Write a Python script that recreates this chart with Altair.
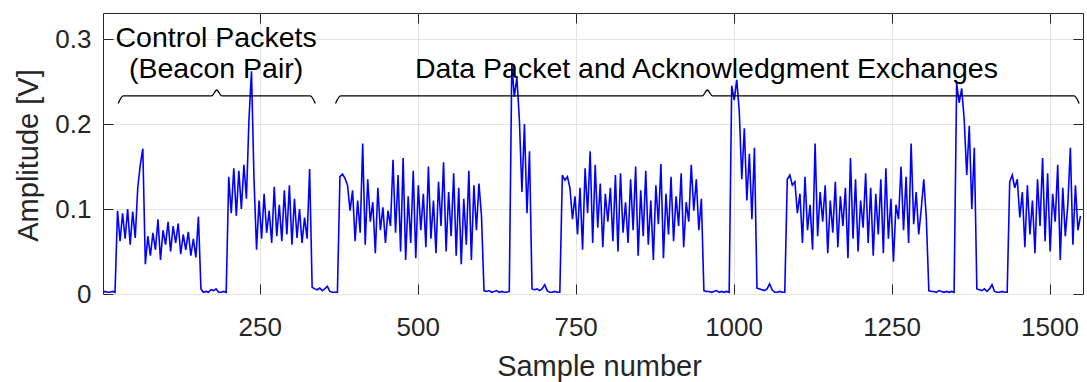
import altair as alt
import pandas as pd

# Amplitude readings [V], one every STEP samples, listed packet by packet.
STEP = 4

idle_0 = [0.002, 0.003, 0.002, 0.002, 0.003, 0.002]
beacon_a_lead = [0.098, 0.062, 0.095, 0.065, 0.100, 0.058, 0.097, 0.066]
beacon_a_peak = [0.125, 0.152, 0.171]
beacon_a_tail = [0.035, 0.068, 0.045, 0.072, 0.052, 0.088, 0.040, 0.075, 0.058, 0.085, 0.050,
                 0.080, 0.060, 0.083, 0.047, 0.070, 0.052, 0.073, 0.045, 0.065, 0.043, 0.091]
idle_1 = [0.006, 0.002, 0.003, 0.002, 0.005, 0.004, 0.006, 0.002, 0.002, 0.003, 0.002]
beacon_b_lead = [0.138, 0.095, 0.148, 0.092, 0.145, 0.100, 0.152, 0.112]
beacon_b_peak = [0.205, 0.262, 0.135]
beacon_b_tail = [0.052, 0.110, 0.065, 0.118, 0.072, 0.098, 0.060, 0.126, 0.068, 0.105, 0.062,
                 0.122, 0.070, 0.128, 0.058, 0.112, 0.066, 0.100, 0.060, 0.090, 0.065, 0.147]
idle_2 = [0.008, 0.006, 0.005, 0.007, 0.004, 0.006, 0.009, 0.003, 0.002, 0.002, 0.002]
data_1 = [0.138, 0.141, 0.136, 0.128, 0.098, 0.122, 0.062, 0.110, 0.072, 0.177, 0.058, 0.135,
          0.085, 0.108, 0.048, 0.125, 0.075, 0.102, 0.060, 0.098, 0.080, 0.158, 0.072, 0.140,
          0.050, 0.160, 0.040, 0.115, 0.060, 0.145, 0.042, 0.128, 0.075, 0.118, 0.055, 0.150,
          0.065, 0.110, 0.048, 0.132, 0.080, 0.155, 0.050, 0.120, 0.068, 0.142, 0.045, 0.125,
          0.035, 0.112, 0.058, 0.145, 0.040, 0.128, 0.075, 0.130, 0.092]
idle_3 = [0.004, 0.003, 0.004, 0.002, 0.003, 0.004, 0.002, 0.003, 0.002, 0.002, 0.003]
ack_1 = [0.270, 0.232, 0.255, 0.205, 0.120, 0.200, 0.095, 0.168]
idle_4 = [0.006, 0.005, 0.006, 0.004, 0.006, 0.011, 0.004, 0.002, 0.002, 0.003, 0.002, 0.002]
data_2 = [0.140, 0.134, 0.138, 0.125, 0.088, 0.115, 0.070, 0.125, 0.052, 0.148, 0.095, 0.168,
          0.060, 0.152, 0.078, 0.130, 0.055, 0.118, 0.085, 0.125, 0.062, 0.140, 0.050, 0.142,
          0.072, 0.108, 0.060, 0.135, 0.075, 0.150, 0.045, 0.122, 0.068, 0.145, 0.058, 0.110,
          0.040, 0.128, 0.082, 0.153, 0.042, 0.118, 0.070, 0.138, 0.062, 0.115, 0.080, 0.142,
          0.055, 0.108, 0.085, 0.152, 0.098, 0.135, 0.075, 0.112]
idle_5 = [0.004, 0.003, 0.003, 0.002, 0.003, 0.004, 0.002, 0.003, 0.002, 0.003, 0.002]
ack_2 = [0.245, 0.228, 0.252, 0.215, 0.135, 0.195, 0.110, 0.165, 0.088, 0.172]
idle_6 = [0.007, 0.006, 0.005, 0.004, 0.006, 0.012, 0.005, 0.002, 0.002, 0.003, 0.002, 0.002]
data_3 = [0.135, 0.140, 0.128, 0.132, 0.095, 0.118, 0.060, 0.138, 0.075, 0.105, 0.052, 0.177,
          0.068, 0.120, 0.085, 0.128, 0.048, 0.110, 0.072, 0.132, 0.055, 0.115, 0.080, 0.125,
          0.042, 0.160, 0.065, 0.135, 0.050, 0.110, 0.078, 0.142, 0.060, 0.125, 0.045, 0.118,
          0.070, 0.135, 0.048, 0.148, 0.065, 0.112, 0.038, 0.105, 0.088, 0.150, 0.075, 0.138,
          0.060, 0.177, 0.082, 0.120, 0.070, 0.100, 0.135, 0.090]
idle_7 = [0.004, 0.003, 0.003, 0.002, 0.004, 0.003, 0.002, 0.003, 0.002, 0.003, 0.002]
ack_3 = [0.248, 0.225, 0.242, 0.205, 0.140, 0.198, 0.100, 0.172]
idle_8 = [0.006, 0.005, 0.004, 0.006, 0.003, 0.006, 0.011, 0.003, 0.002, 0.002, 0.003, 0.002, 0.002]
data_4 = [0.132, 0.140, 0.125, 0.135, 0.090, 0.120, 0.055, 0.128, 0.070, 0.110, 0.048, 0.135,
          0.080, 0.160, 0.062, 0.142, 0.050, 0.118, 0.085, 0.152, 0.040, 0.125, 0.068, 0.105,
          0.172, 0.058, 0.128, 0.075, 0.092]

segments = [idle_0, beacon_a_lead, beacon_a_peak, beacon_a_tail, idle_1,
            beacon_b_lead, beacon_b_peak, beacon_b_tail, idle_2,
            data_1, idle_3, ack_1, idle_4, data_2, idle_5, ack_2, idle_6,
            data_3, idle_7, ack_3, idle_8, data_4]

amplitude = [v for seg in segments for v in seg]
sample = [1 + STEP * i for i in range(len(amplitude))]

x_ticks = [250, 500, 750, 1000, 1250, 1500]
y_ticks = [0, 0.1, 0.2, 0.3]
x_domain = [2, 1553]
y_domain = [0, 0.3306]

# Braces over the two phases: (name, first sample, last sample)
brace_spans = [("control", 26, 338), ("data", 370, 1547)]
brace_level = 0.233
brace_hook = 0.009
brace_tip = 0.007
brace_round = 8

label_text = ["Control Packets", "(Beacon Pair)", "Data Packet and Acknowledgment Exchanges"]
label_x = [181, 181, 957]
label_y = [0.291, 0.254, 0.254]

FONT = "Liberation Sans"
INK = "#262626"

signal_df = pd.DataFrame({"sample": sample, "amplitude": amplitude})

brace_rows = []
for name, x0, x1 in brace_spans:
    xc = (x0 + x1) / 2
    pts = [(x0, brace_level - brace_hook), (x0 + brace_round, brace_level),
           (xc - brace_round, brace_level), (xc, brace_level + brace_tip),
           (xc + brace_round, brace_level), (x1 - brace_round, brace_level),
           (x1, brace_level - brace_hook)]
    for k, (bx, by) in enumerate(pts):
        brace_rows.append({"brace": name, "order": k, "sample": bx, "amplitude": by})
brace_df = pd.DataFrame(brace_rows)

label_df = pd.DataFrame({"text": label_text, "sample": label_x, "amplitude": label_y})

x_scale = alt.Scale(domain=x_domain, nice=False, zero=False)
y_scale = alt.Scale(domain=y_domain, nice=False, zero=False)

signal = alt.Chart(signal_df).mark_line(color="#0000ff", strokeWidth=1.6, clip=True).encode(
    x=alt.X("sample:Q", scale=x_scale, axis=alt.Axis(
        orient="bottom", values=x_ticks, format="d", offset=-10, tickSize=10,
        labelPadding=20, grid=True, domain=False, title="Sample number",
        titleX=496, titleY=91, titleBaseline="alphabetic", titleAlign="center")),
    y=alt.Y("amplitude:Q", scale=y_scale, axis=alt.Axis(
        orient="left", values=y_ticks, format=".1~f", offset=-10, tickSize=10,
        labelPadding=12, grid=True, domain=False, title="Amplitude [V]",
        titleX=-76, titleY=142, titleAngle=-90, titleBaseline="alphabetic",
        titleAlign="center")),
)

braces = alt.Chart(brace_df).mark_line(color="#000000", strokeWidth=1.3,
                                       interpolate="monotone").encode(
    x=alt.X("sample:Q", scale=x_scale, axis=alt.Axis(
        orient="top", values=x_ticks, offset=-10, tickSize=10, labels=False,
        grid=False, domain=False, title=None)),
    y=alt.Y("amplitude:Q", scale=y_scale, axis=alt.Axis(
        orient="right", values=y_ticks, offset=-10, tickSize=10, labels=False,
        grid=False, domain=False, title=None)),
    detail="brace:N",
    order="order:Q",
)

labels = alt.Chart(label_df).mark_text(
    font=FONT, fontSize=28.5, color="#000000", align="center", baseline="alphabetic"
).encode(
    x=alt.X("sample:Q", scale=x_scale, axis=None),
    y=alt.Y("amplitude:Q", scale=y_scale, axis=None),
    text="text:N",
)

chart = alt.layer(signal, braces, labels).resolve_axis(
    x="independent", y="independent"
).properties(
    width=980, height=281,
    autosize=alt.AutoSizeParams(type="none"),
    padding={"left": 103, "top": 13, "right": 4, "bottom": 88},
).configure_view(
    stroke=INK, strokeWidth=1
).configure_axis(
    labelFont=FONT, titleFont=FONT, labelFontSize=26, titleFontSize=29,
    labelColor=INK, titleColor=INK, tickColor=INK, tickWidth=1,
    gridColor="#e3e3e3", gridWidth=1, titleFontWeight="normal",
)

chart.save("out.html", embed_options={"renderer": "svg", "actions": False})
